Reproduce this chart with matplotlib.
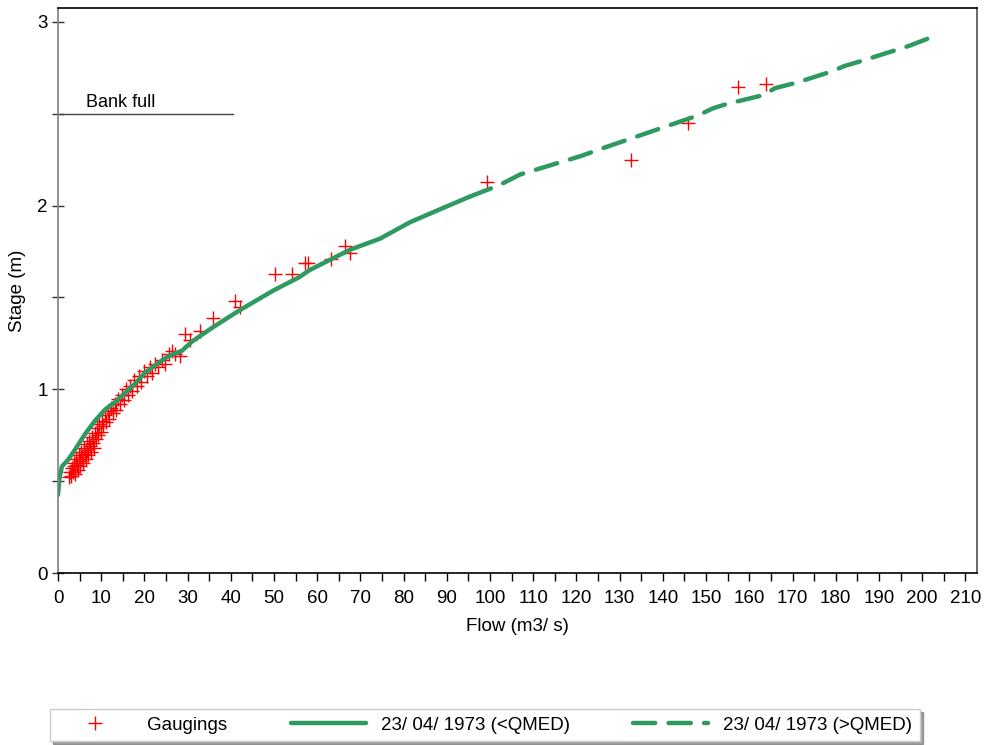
import matplotlib.pyplot as plt
import numpy as np

plt.rcParams['font.family'] = ['Liberation Sans', 'DejaVu Sans']

# rating curve below QMED (solid)
q_low = [0, 0.3, 0.9, 2.3, 3.9, 5.8, 7.0, 8.6, 10.9, 13.2, 15.5, 17.8, 20.1, 22.4, 25.5,
         28.7, 31.0, 36.0, 42.0, 50.0, 55.8, 58.3, 67.6, 74.5, 81.5, 88.4, 95.4]
h_low = [0.425, 0.51, 0.58, 0.615, 0.67, 0.74, 0.78, 0.83, 0.89, 0.93, 0.98, 1.03, 1.09, 1.13,
         1.18, 1.21, 1.26, 1.34, 1.43, 1.54, 1.61, 1.65, 1.76, 1.82, 1.91, 1.98, 2.05]

# rating curve above QMED (dashed)
q_high = [95.4, 102, 107, 114, 121, 127, 148, 151.6, 155, 163, 166, 171, 179, 182,
          186.3, 197, 201.4]
h_high = [2.05, 2.11, 2.17, 2.22, 2.27, 2.32, 2.49, 2.53, 2.555, 2.60, 2.64, 2.67, 2.73, 2.76,
          2.79, 2.87, 2.91]

# gaugings
q_g = [2.5, 2.8, 3.0, 3.2, 3.4, 3.6, 3.8, 4.0, 4.2, 4.4, 4.6, 4.8, 5.0, 5.2, 5.4, 5.6, 5.8,
       6.0, 6.2, 6.4, 6.6, 6.8, 7.0, 7.2, 7.4, 7.6, 7.8, 8.0, 8.3, 8.5, 8.8, 9.0, 9.3, 9.6,
       9.9, 10.2, 10.5, 10.8, 11.1, 11.5, 11.9, 12.3, 12.7, 13.1, 13.5, 14.0, 14.4, 14.9,
       15.3, 15.8, 16.2, 16.7, 17.2, 17.7, 18.2, 18.8, 19.3, 19.9, 20.5, 21.2, 21.8, 22.5,
       23.2, 24.0, 24.8, 25.6, 26.4, 27.0, 28.2, 29.4, 30.6, 32.9, 35.9, 41.0, 42.1,
       50.2, 54.2, 57.2, 57.9, 63.2, 66.4, 67.6, 99.3, 132.6, 145.8, 157.4, 163.9]
h_g = [0.52, 0.55, 0.53, 0.57, 0.55, 0.60, 0.58, 0.54, 0.62, 0.59, 0.56, 0.64, 0.61, 0.58,
       0.66, 0.63, 0.60, 0.68, 0.65, 0.62, 0.70, 0.67, 0.64, 0.72, 0.69, 0.66, 0.74, 0.71,
       0.68, 0.76, 0.73, 0.79, 0.75, 0.81, 0.77, 0.83, 0.80, 0.86, 0.82, 0.88, 0.84, 0.90,
       0.87, 0.92, 0.89, 0.95, 0.92, 0.97, 0.94, 1.00, 0.97, 1.02, 0.99, 1.05, 1.02, 1.07,
       1.04, 1.10, 1.07, 1.12, 1.09, 1.14, 1.12, 1.16, 1.14, 1.19, 1.21, 1.19, 1.18, 1.30,
       1.27, 1.32, 1.39, 1.48, 1.45, 1.63, 1.63, 1.69, 1.69, 1.71, 1.78, 1.74, 2.13, 2.25,
       2.45, 2.645, 2.66]

bank_full = 2.5
green = '#2e9a62'

fig = plt.figure(figsize=(9.86, 7.45), dpi=100)
ax = fig.add_axes([58/986, 1-573/745, (977-58)/986, (573-8)/745])

ax.plot(q_g, h_g, ls='none', marker='+', ms=10, mew=1.0, color='red', label='Gaugings')
ax.plot(q_low, h_low, color=green, lw=3.2, solid_capstyle='round', label='23/ 04/ 1973 (<QMED)')
ax.plot(q_high, h_high, color=green, lw=3.2, ls=(0, (5, 3)), dash_capstyle='round',
        label='23/ 04/ 1973 (>QMED)')

# bank full line
ax.plot([0, 40.5], [bank_full, bank_full], color='#444444', lw=1, clip_on=False)
ax.text(6.5, bank_full + 0.015, 'Bank full', fontsize=13, va='bottom', ha='left')

ax.set_xlim(0, 212.7)
ax.set_ylim(0, 3.076)
ax.set_xticks(np.arange(0, 211, 10))
ax.set_xticks(np.arange(5, 211, 10), minor=True)
ax.set_yticks([0, 1, 2, 3])
ax.set_yticks([0.5, 1.5, 2.5], minor=True)
ax.tick_params(axis='x', which='both', direction='out', length=6, width=1, labelsize=13.5, pad=6)
ax.tick_params(axis='y', which='both', direction='inout', length=8, width=1, labelsize=13.5,
               color='#333333')

ax.spines['left'].set_color('#808080')
ax.spines['right'].set_color('#505050')
ax.spines['top'].set_color('black')
ax.spines['bottom'].set_color('black')
for s in ax.spines.values():
    s.set_linewidth(1.2)

ax.set_xlabel('Flow (m3/ s)', fontsize=13.5, labelpad=8)
ax.set_ylabel('Stage (m)', fontsize=13.5, labelpad=8)

handles, labels = ax.get_legend_handles_labels()
leg = fig.legend(handles, labels, loc='lower left', ncol=3, mode='expand',
                 bbox_to_anchor=(50/986, 4/745, 870/986, 34/745), fontsize=13.5,
                 frameon=True, fancybox=False, shadow=True, handlelength=4,
                 borderaxespad=0)
leg.get_frame().set_edgecolor('#cccccc')
leg.get_frame().set_linewidth(1)

plt.savefig('out.png', dpi=100)
